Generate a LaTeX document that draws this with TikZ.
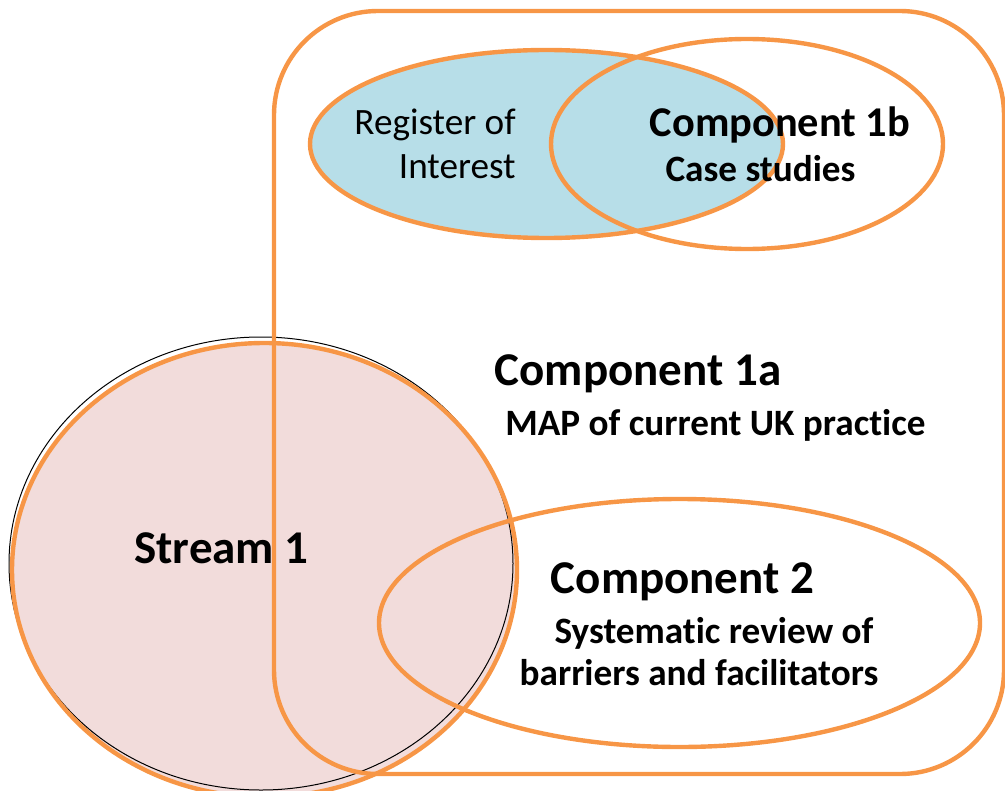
\documentclass[tikz,border=0pt]{standalone}
\usepackage{fontspec}
\setmainfont{Carlito}[RawFeature=-liga]
\definecolor{venorange}{HTML}{F79646}
\definecolor{venpink}{HTML}{F2DCDB}
\definecolor{venblue}{HTML}{B7DEE8}
\tikzset{
  ring/.style={draw=venorange, line width=2.2pt},
  title/.style={font=\fontsize{23.5}{28}\selectfont\bfseries, inner sep=0pt, anchor=base},
  subtitle/.style={font=\fontsize{18.6}{22}\selectfont\bfseries, inner sep=0pt, anchor=base},
  regtext/.style={font=\fontsize{18.6}{22}\selectfont, inner sep=0pt, anchor=base east},
}
\begin{document}
\begin{tikzpicture}[x=0.5pt, y=-0.5pt]
      \useasboundingbox (0,0) rectangle (1005,791);
      % stream 1
      \fill[venpink] (264.5,570) ellipse [x radius=252.5, y radius=227];
      \draw[black, line width=0.5pt] (261,563.5) ellipse [x radius=252, y radius=226.5];
      \draw[ring] (264.5,570) ellipse [x radius=252.5, y radius=227];
      % component 1a
      \draw[ring, rounded corners=52pt] (274,11) rectangle (1004,774);
      % register of interest and component 1b
      \draw[ring, fill=venblue] (546.5,144) ellipse [x radius=236.5, y radius=94];
      \draw[ring] (747,144) ellipse [x radius=196, y radius=105];
      % component 2
      \draw[ring] (679.5,623) ellipse [x radius=300.5, y radius=124];
      \node[title] (stream) at (221.5,563) {Stream 1};
      \node[regtext] (register) at (516,135) {Register of};
      \node[regtext] (interest) at (516,179) {Interest};
      \node[title, font=\fontsize{21.2}{25}\selectfont\bfseries] (comp1b) at (780,137) {Component 1b};
      \node[subtitle] (cases) at (760.5,182) {Case studies};
      \node[title] (comp1a) at (638,385) {Component 1a};
      \node[subtitle] (map) at (715.5,435) {MAP of current UK practice};
      \node[title] (comp2) at (682.5,593) {Component 2};
      \node[subtitle] (review) at (714,643) {Systematic review of};
      \node[subtitle] (barriers) at (699,685) {barriers and facilitators};
    \end{tikzpicture}
\end{document}
